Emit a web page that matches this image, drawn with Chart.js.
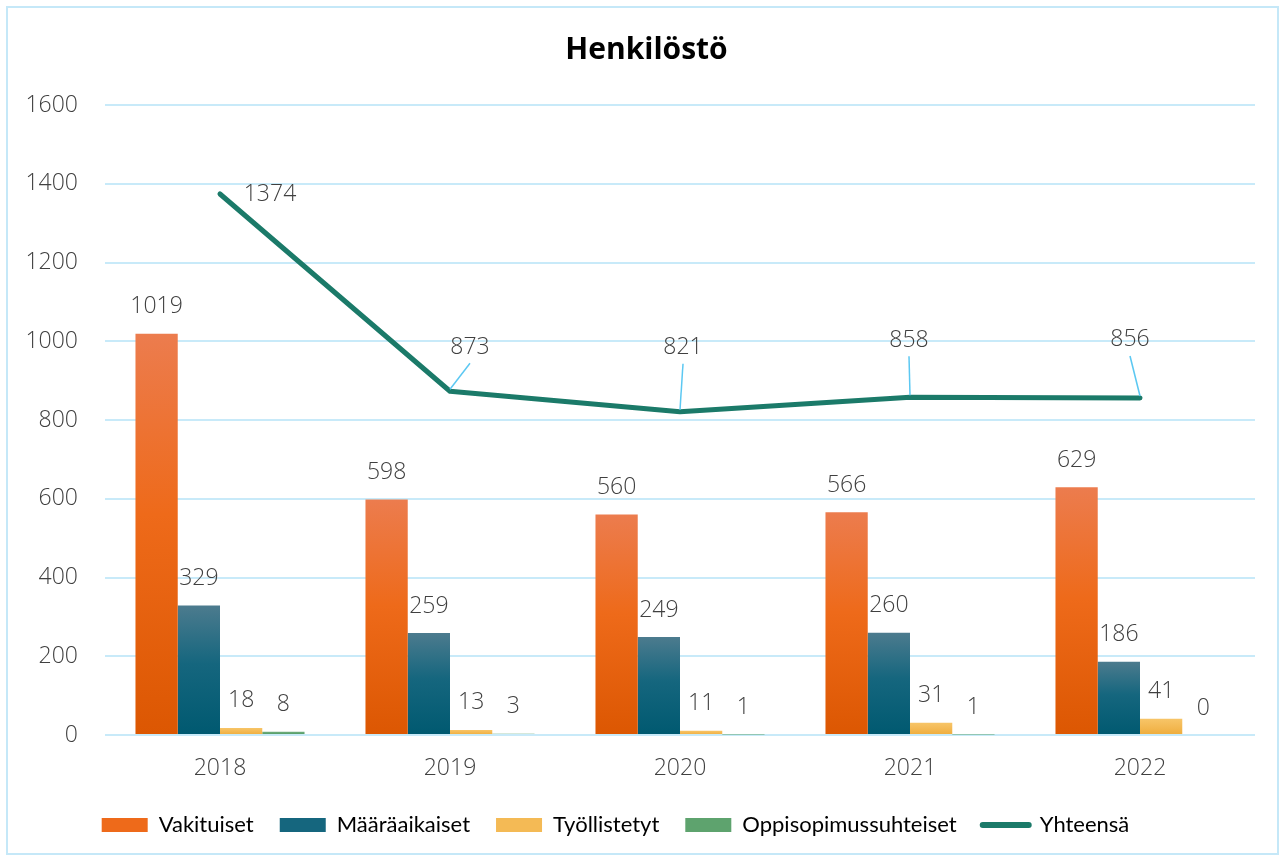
<!DOCTYPE html>
<html>
<head>
<meta charset="utf-8">
<script src="https://cdn.jsdelivr.net/npm/chart.js@4.4.1/dist/chart.umd.min.js"></script>
<style>
  html, body { margin: 0; padding: 0; background: #fff; }
  #wrap { width: 1285px; height: 861px; }
</style>
</head>
<body>
<div id="wrap"><canvas id="myChart" width="1285" height="861"></canvas></div>
<script>
const years = ["2018", "2019", "2020", "2021", "2022"];
const vakituiset = [1019, 598, 560, 566, 629];
const maaraaikaiset = [329, 259, 249, 260, 186];
const tyollistetyt = [18, 13, 11, 31, 41];
const oppisopimus = [8, 3, 1, 1, 0];
const yhteensa = [1374, 873, 821, 858, 856];
const yTicks = [0, 200, 400, 600, 800, 1000, 1200, 1400, 1600];

// label offsets (px) for the total line, [dx, dy, leader]
const lineLabelOffsets = [[50, 0, false], [20, -44, true], [3, -64, true], [-1, -57, true], [-10, -58, true]];

const textColor = "#404040";
const gridColor = "#C8EAF9";
const lineColor = "#1B7A69";
const numFont = "'Open Sans'";

// top, middle, bottom shades of each bar colour
const orangeShades = ["#EC7C4E", "#EE6A1A", "#DC5702"];
const blueShades = ["#4C7B8E", "#15667E", "#005970"];
const yellowShades = ["#F7C568", "#F4BA55", "#EEAC3C"];
const greenShades = ["#72AE80", "#5EA36E", "#4C985E"];

function barGradient(shades) {
  return (ctx) => {
    const chart = ctx.chart;
    const y = chart.scales.y;
    if (ctx.type !== "data" || !y || !chart.chartArea) return shades[1];
    const top = y.getPixelForValue(ctx.raw);
    const base = y.getPixelForValue(0);
    if (base - top < 2) return shades[1];
    const g = chart.ctx.createLinearGradient(0, top, 0, base);
    g.addColorStop(0, shades[0]);
    g.addColorStop(0.45, shades[1]);
    g.addColorStop(1, shades[2]);
    return g;
  };
}

const frame = {
  id: "frame",
  afterLayout(chart) {
    // title sits a bit right of the plot centre, legend a bit left and lower
    chart.titleBlock.left += 38;
    chart.legend.left -= 12;
    chart.legend.right -= 12;
    chart.legend.top += 7;
    chart.legend.bottom += 7;
  },
  beforeDraw(chart) {
    const c = chart.ctx;
    c.save();
    c.fillStyle = "#fff";
    c.fillRect(0, 0, chart.width, chart.height);
    c.strokeStyle = "#C5E8F8";
    c.lineWidth = 2;
    c.strokeRect(7, 7, chart.width - 14, chart.height - 14);
    c.restore();
  }
};

const valueLabels = {
  id: "valueLabels",
  afterDatasetsDraw(chart) {
    const c = chart.ctx;
    c.save();
    c.font = "300 23px " + numFont;
    c.fillStyle = textColor;
    c.textAlign = "center";
    c.textBaseline = "middle";
    chart.data.datasets.forEach((ds, di) => {
      const meta = chart.getDatasetMeta(di);
      meta.data.forEach((el, i) => {
        const v = ds.data[i];
        if (ds.type === "line") {
          const [dx, dy, leader] = lineLabelOffsets[i];
          const lx = el.x + dx, ly = el.y + dy;
          if (leader) {
            c.strokeStyle = "#5CC8F2";
            c.lineWidth = 1.5;
            c.beginPath();
            c.moveTo(el.x, el.y - 2);
            c.lineTo(lx, ly + 16);
            c.stroke();
          }
          c.fillText(String(v), lx, ly);
        } else {
          c.fillText(String(v), el.x, el.y - 27);
        }
      });
    });
    c.restore();
  }
};

function build() {
  new Chart(document.getElementById("myChart").getContext("2d"), {
    type: "bar",
    data: {
      labels: years,
      datasets: [
        { label: "Vakituiset", data: vakituiset, backgroundColor: barGradient(orangeShades) },
        { label: "Määräaikaiset", data: maaraaikaiset, backgroundColor: barGradient(blueShades) },
        { label: "Työllistetyt", data: tyollistetyt, backgroundColor: barGradient(yellowShades) },
        { label: "Oppisopimussuhteiset", data: oppisopimus, backgroundColor: barGradient(greenShades) },
        {
          type: "line",
          label: "Yhteensä",
          data: yhteensa,
          borderColor: lineColor,
          backgroundColor: lineColor,
          borderWidth: 5,
          borderCapStyle: "round",
          borderJoinStyle: "round",
          pointRadius: 0,
          tension: 0
        }
      ]
    },
    options: {
      responsive: false,
      animation: false,
      datasets: { bar: { barPercentage: 1, categoryPercentage: 0.735 } },
      layout: { padding: { left: 0, right: 30, top: 0, bottom: 22 } },
      plugins: {
        tooltip: { enabled: false },
        title: {
          display: true,
          text: "Henkilöstö",
          color: "#000",
          font: { family: "Open Sans", size: 30, weight: "bold", lineHeight: 1.2 },
          padding: { top: 32, bottom: 37 }
        },
        legend: {
          position: "bottom",
          labels: {
            usePointStyle: true,
            pointStyleWidth: 46,
            boxHeight: 14,
            padding: 26,
            color: "#000",
            font: { family: "Lato", size: 22 },
            generateLabels(chart) {
              const items = Chart.defaults.plugins.legend.labels.generateLabels(chart);
              const mids = [orangeShades[1], blueShades[1], yellowShades[1], greenShades[1]];
              items.forEach((it, i) => {
                if (i < 4) {
                  it.pointStyle = "rect";
                  it.fillStyle = mids[i];
                  it.strokeStyle = mids[i];
                  it.lineWidth = 0;
                } else {
                  it.pointStyle = "line";
                  it.strokeStyle = lineColor;
                  it.lineWidth = 6;
                  it.lineCap = "round";
                }
              });
              return items;
            }
          }
        }
      },
      scales: {
        x: {
          grid: { display: false, drawTicks: false },
          border: { display: false },
          ticks: { color: textColor, font: { family: "Open Sans", size: 23, weight: "300", lineHeight: 1 }, padding: 22 },
          afterFit(scale) { scale.height = 46; }
        },
        y: {
          min: 0,
          max: 1600,
          afterBuildTicks(scale) { scale.ticks = yTicks.map(v => ({ value: v })); },
          grid: { color: gridColor, lineWidth: 2, drawTicks: false },
          border: { display: false },
          ticks: {
            color: textColor,
            font: { family: "Open Sans", size: 23, weight: "300" },
            padding: 27,
            callback: (v) => String(v)
          },
          afterFit(scale) { scale.width = 105; }
        }
      }
    },
    plugins: [frame, valueLabels]
  });
}

Promise.all([
  document.fonts.load("300 23px 'Open Sans'"),
  document.fonts.load("bold 30px 'Open Sans'"),
  document.fonts.load("22px Lato")
]).then(build, build);
</script>
</body>
</html>
